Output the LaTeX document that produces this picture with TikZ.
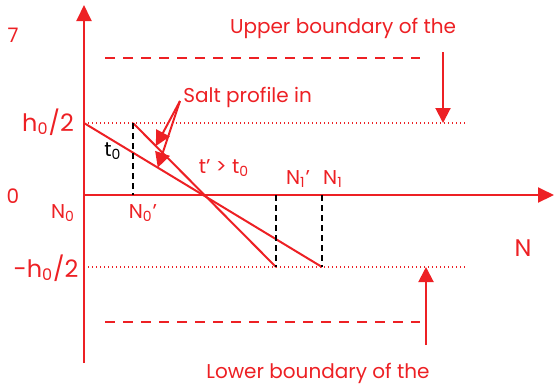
\documentclass[tikz,border=0pt]{standalone}
\usepackage{fontspec}
\setmainfont{Poppins}
\usetikzlibrary{arrows.meta, positioning}
\definecolor{slred}{RGB}{237,32,36}

\begin{document}
\begin{tikzpicture}[
    x=0.5pt, y=-0.5pt,
    lbl/.style={text=slred, font=\fontsize{10}{12}\selectfont, inner sep=0pt},
    axis/.style={slred, line width=1pt, -{Triangle[length=8pt, width=7.5pt]}},
    profile/.style={slred, line width=1pt},
    level/.style={slred, line width=0.6pt, dash pattern=on 0.6pt off 1.4pt},
    bound/.style={slred, line width=0.8pt, dash pattern=on 5pt off 4pt},
    tickline/.style={black, line width=0.9pt, dash pattern=on 3pt off 2pt},
    arrow/.style={slred, line width=1pt, -{Triangle[length=7.5pt, width=7.5pt]}}
]
\useasboundingbox (0,0) rectangle (555,388);
% axes
\coordinate (O) at (84,195);
\coordinate (ytop) at (84,5);
\coordinate (ybot) at (84,363);
\coordinate (xend) at (554,195);
\draw[axis] (ybot) -- (ytop);
\draw[axis] (O) -- (xend);
% levels +h0/2 and -h0/2
\coordinate (hp) at (84,123);
\coordinate (hm) at (84,267);
\coordinate (hpend) at (465,123);
\coordinate (hmend) at (465,267);
\draw[level] (hp) -- (hpend);
\draw[level] (hm) -- (hmend);
% boundaries
\coordinate (ub1) at (105,58);
\coordinate (ub2) at (420,58);
\coordinate (lb1) at (105,322);
\coordinate (lb2) at (420,322);
\draw[bound] (ub1) -- (ub2);
\draw[bound] (lb1) -- (lb2);
% salt profiles
\coordinate (p0) at (133,123);
\coordinate (q0) at (322,267);
\coordinate (q1) at (276,267);
\draw[profile] (hp) -- (q0);
\draw[profile] (p0) -- (q1);
% marks on the axis
\coordinate (n0p) at (133,195);
\coordinate (n1p) at (276,195);
\coordinate (n1) at (322,195);
\draw[tickline] (p0) -- (n0p);
\draw[tickline] (n1p) -- (q1);
\draw[tickline] (n1) -- (q0);
% labels
\node[lbl] (seven) at (13,35) {7};
\node[lbl] (zero) at (13,196) {0};
\node[lbl, font=\fontsize{12}{14}\selectfont] (hplus) at (48,122) {h\textsubscript{0}/2};
\node[lbl, font=\fontsize{12}{14}\selectfont] (hminus) at (46,268) {-h\textsubscript{0}/2};
\node[lbl, text=black] (t0) at (113,151) {t\textsubscript{0}};
\node[lbl] (t1) at (224,168) {t’ > t\textsubscript{0}};
\node[lbl] (N0) at (63,213) {N\textsubscript{0}};
\node[lbl] (N0p) at (143,213) {N\textsubscript{0}’};
\node[lbl] (N1p) at (298,179) {N\textsubscript{1}’};
\node[lbl] (N1) at (333,179) {N\textsubscript{1}};
\node[lbl, font=\fontsize{12}{14}\selectfont] (N) at (523,248) {N};
\node[lbl] (upper) at (343,28) {Upper boundary of the};
\node[lbl] (lower) at (318,373) {Lower boundary of the};
\node[lbl, anchor=west] (salt) at (183,97) {Salt profile in};
% pointers
\coordinate (uptail) at (443,52);
\coordinate (lotail) at (426,345);
\draw[arrow] (uptail) -- (uptail |- hp);
\draw[arrow] (lotail) -- (lotail |- hm);
\coordinate (saltfoot) at (180,101);
\path (p0) -- (q1) coordinate[pos=0.16] (onB);
\path (hp) -- (q0) coordinate[pos=0.31] (onA);
\draw[arrow] (saltfoot) -- (onB);
\draw[arrow] (saltfoot) -- (onA);
\end{tikzpicture}
\end{document}
